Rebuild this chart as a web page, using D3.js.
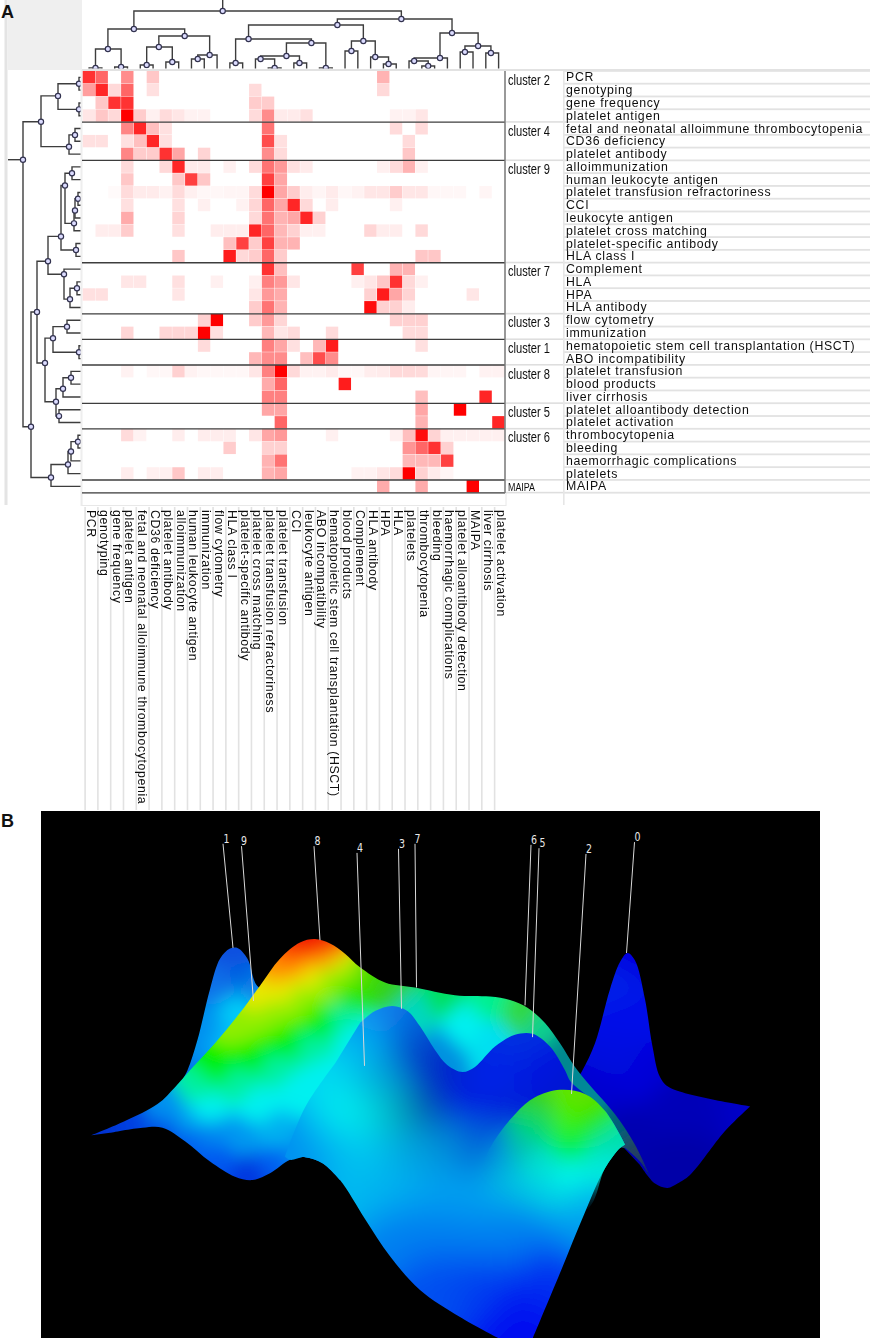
<!DOCTYPE html>
<html><head><meta charset="utf-8">
<script src="https://cdn.jsdelivr.net/npm/d3@7"></script>
<style>html,body{margin:0;padding:0;background:#fff}svg{display:block}</style></head>
<body><svg id="c" width="870" height="1339"></svg>
<script>
const rowLabels=["PCR","genotyping","gene frequency","platelet antigen","fetal and neonatal alloimmune thrombocytopenia","CD36 deficiency","platelet antibody","alloimmunization","human leukocyte antigen","platelet transfusion refractoriness","CCI","leukocyte antigen","platelet cross matching","platelet-specific antibody","HLA class I","Complement","HLA","HPA","HLA antibody","flow cytometry","immunization","hematopoietic stem cell transplantation (HSCT)","ABO incompatibility","platelet transfusion","blood products","liver cirrhosis","platelet alloantibody detection","platelet activation","thrombocytopenia","bleeding","haemorrhagic complications","platelets","MAIPA"];
const colLabels=["PCR","genotyping","gene frequency","platelet antigen","fetal and neonatal alloimmune thrombocytopenia","CD36 deficiency","platelet antibody","alloimmunization","human leukocyte antigen","immunization","flow cytometry","HLA class I","platelet-specific antibody","platelet cross matching","platelet transfusion refractoriness","platelet transfusion","CCI","leukocyte antigen","ABO incompatibility","hematopoietic stem cell transplantation (HSCT)","blood products","Complement","HLA antibody","HPA","HLA","platelets","thrombocytopenia","bleeding","haemorrhagic complications","platelet alloantibody detection","MAIPA","liver cirrhosis","platelet activation"];
const clusterNames=["cluster 2","cluster 4","cluster 9","cluster 7","cluster 3","cluster 1","cluster 8","cluster 5","cluster 6","MAIPA"];
const clusterSizes=[4,3,8,4,2,2,3,2,4,1];
// co-occurrence intensity per row as [column, percent]
const heatRows=[
[[0,80],[1,60],[3,45],[5,22],[23,30]],
[[0,38],[1,85],[2,15],[3,60],[5,12],[13,14],[23,15]],
[[1,22],[2,80],[3,80],[13,20],[14,20]],
[[0,10],[1,22],[2,15],[3,100],[4,20],[5,6],[6,14],[7,10],[8,5],[9,5],[13,14],[14,45],[15,8],[16,8],[17,12],[24,5],[25,5],[26,10]],
[[3,48],[4,85],[5,25],[6,12],[14,55],[24,14],[26,14]],
[[0,12],[1,12],[3,12],[4,25],[5,85],[6,12],[14,70],[15,12],[25,14]],
[[3,48],[4,20],[5,20],[6,80],[7,35],[9,17],[14,45],[15,14],[25,22]],
[[3,14],[6,15],[7,85],[8,8],[9,8],[11,6],[13,14],[14,55],[15,40],[16,12],[17,8],[23,6],[24,14],[25,30],[26,6]],
[[3,22],[7,22],[8,75],[9,22],[14,75],[15,35]],
[[2,2],[3,14],[4,8],[5,8],[6,5],[7,14],[8,6],[9,3],[10,3],[11,4],[12,4],[13,14],[14,100],[15,35],[16,20],[17,7],[18,4],[19,8],[20,3],[21,5],[22,10],[23,10],[24,20],[25,10],[26,10],[27,3],[28,3],[29,3],[31,4]],
[[3,12],[7,12],[9,6],[12,5],[13,16],[14,60],[15,35],[16,85],[17,15],[19,7],[24,6]],
[[3,33],[7,17],[13,15],[14,55],[15,30],[16,35],[17,85],[18,18]],
[[1,7],[2,7],[3,20],[7,12],[10,7],[11,7],[12,7],[13,85],[14,60],[15,28],[16,18],[17,6],[18,6],[22,16],[23,7],[24,7],[26,15]],
[[11,25],[12,75],[13,20],[14,75],[15,30],[16,30]],
[[7,22],[11,90],[12,15],[13,20],[14,60],[15,20],[26,22],[27,22]],
[[14,80],[15,25],[21,75],[24,30],[25,30]],
[[3,10],[4,10],[7,12],[10,6],[13,6],[14,50],[15,40],[16,10],[21,6],[22,10],[23,22],[24,80],[25,15],[26,6]],
[[0,12],[1,12],[7,10],[13,10],[14,40],[15,33],[22,18],[23,90],[24,35],[25,17],[30,10]],
[[13,20],[14,55],[15,30],[22,95],[23,18],[24,18],[25,7]],
[[9,18],[10,100],[13,20],[14,40],[15,16],[24,18],[25,18],[26,18]],
[[3,16],[6,16],[7,16],[8,16],[9,100],[10,12],[14,28],[15,10],[16,14],[19,14],[25,14],[26,14]],
[[9,14],[14,50],[15,35],[16,12],[18,28],[19,90],[26,12]],
[[13,28],[14,45],[15,45],[17,25],[18,70],[19,45]],
[[3,5],[5,3],[6,3],[7,18],[8,5],[9,3],[10,3],[11,3],[12,3],[13,10],[14,50],[15,100],[16,15],[17,5],[18,5],[19,8],[20,3],[21,3],[22,7],[23,8],[24,15],[25,15],[26,14],[27,4],[28,4],[29,4],[31,5],[32,5]],
[[14,33],[15,60],[20,90]],
[[14,50],[15,50],[26,25],[31,85]],
[[14,35],[15,35],[26,35],[29,100]],
[[15,60],[26,30],[32,85]],
[[3,14],[4,5],[7,7],[9,7],[10,7],[11,7],[13,10],[14,35],[15,40],[19,6],[24,6],[25,25],[26,95],[27,17],[28,6],[29,6],[30,6],[31,6],[32,6]],
[[11,20],[14,18],[15,18],[25,42],[26,60],[27,80],[28,18]],
[[14,30],[15,55],[25,28],[26,28],[27,28],[28,75]],
[[3,7],[5,6],[6,6],[7,22],[9,7],[10,7],[14,30],[15,35],[21,5],[22,5],[23,10],[24,14],[25,100],[26,18],[27,8],[28,4]],
[[23,33],[26,33],[30,100]]
];
const N=(at,h,a,b)=>({at,h,children:[a,b]});
// top dendrogram: node position (column units) and merge height
const topTree=N(10.94,59,
 N(4.0,41,
  N(1.97,21,N(1,2,0,1),N(3,3,2,3)),
  N(7.97,34,N(5.95,23,N(5,5,4,5),N(7,8,6,7)),N(9.92,15,N(8.99,11,8,9),10))),
 N(24.9,51,
  N(19.9,45,
   N(12.96,31,N(11.95,7,11,12),
    N(17.87,27,
     N(15.92,14,N(13.9,11,13,N(15,2,14,15)),N(16.94,7,16,17)),
     N(19,2,18,19))),
   N(21.93,29,N(21,19,20,21),N(22.86,13,22,N(23.9,6,23,24)))),
  N(28.86,37,
   N(27.92,12,N(25.9,9,25,N(27,4,26,27)),28),
   N(30.9,24,N(29.87,18,29,30),N(31.9,17,31,32)))));
// left dendrogram: node position (row units) and merge height
const leftTree=N(6.94,59,
 N(3.97,41,
  N(1.95,24,N(1,3,0,1),N(3,3,2,3)),
  N(5.92,13,N(5,7,4,5),6)),
 N(27.83,51,
  N(18.86,45,
   N(14.89,34,
    N(12.94,21,
     N(8.96,17,N(8,10,7,8),N(11.92,8,N(10.91,7,N(10,4,9,10),11),12)),
     N(14,6,13,14)),
    N(15.9,18,15,N(17.85,12,N(17,5,16,17),18))),
   N(22.84,37,
    N(20.9,29,N(20,15,19,20),N(22,3,21,22)),
    N(25.88,26,N(24.86,19,N(24,11,23,24),25),N(27,23,26,27)))),
  N(31.8,31,N(30.79,14,N(29.77,11,N(29,4,28,29),30),31),32)));
// surface picture: silhouettes and sampled colours, in picture units
const peakZeroOutline=[[1060,830],[1085,770],[1110,690],[1140,530],[1160,450],[1175,423],[1190,445],[1210,560],[1225,700],[1240,790],[1260,822],[1420,877],[1420,877],[1370,950],[1300,1080],[1275,1105],[1255,1118],[1230,1105],[1200,1050]];
const peakZeroStops=[[1175,440,"#0000e0"],[1150,520,"#0020e8"],[1170,600,"#0010e8"],[1150,750,"#0008e0"],[1200,800,"#0000d8"],[1130,820,"#0000d0"],[1250,880,"#0000b8"],[1330,900,"#0000b8"],[1250,1050,"#0000a8"],[1180,950,"#0000b0"],[1400,880,"#0000c8"],[1300,1030,"#0000a8"]];
const peakOneOutline=[[280,810],[295,770],[315,680],[340,530],[360,440],[380,410],[395,408],[415,440],[430,510],[445,545],[400,650],[330,780]];
const peakOneStops=[[385,420,"#0a50e0"],[365,520,"#0870e8"],[340,650,"#0090f0"],[400,500,"#0060e0"],[425,530,"#1080e8"],[320,750,"#0090f0"],[300,790,"#0060e0"],[395,590,"#00d0f8"],[370,680,"#00c0f8"]];
const bodyOutline=[[103,962],[103,962],[170,920],[235,870],[270,820],[300,770],[350,690],[400,600],[440,520],[480,440],[520,392],[550,382],[580,395],[610,425],[640,465],[690,510],[750,525],[830,548],[900,552],[940,562],[975,585],[1010,630],[1040,690],[1070,760],[1100,815],[1150,900],[1190,990],[1225,1100],[1225,1100],[1200,1040],[1170,1000],[1170,1000],[1000,1000],[600,1095],[600,1095],[565,1045],[530,1027],[500,1035],[460,1075],[425,1095],[390,1085],[340,1040],[290,980],[245,940],[205,940],[140,955]];
const bodyStops=[[550,386,"#f01000"],[525,403,"#f01800"],[577,400,"#f02000"],
 [510,432,"#ff4800"],[550,418,"#ff4000"],[587,412,"#ff5000"],
 [485,478,"#ff9000"],[525,460,"#ff9800"],[572,436,"#ff9800"],
 [445,555,"#e8e800"],[492,530,"#e8e800"],[542,490,"#e8e800"],[602,452,"#dce800"],
 [400,640,"#90ee00"],[460,600,"#90ee00"],[520,560,"#90ee00"],[580,510,"#90ee00"],[622,480,"#80e800"],
 [350,765,"#00f000"],[420,730,"#00f000"],[490,690,"#00f000"],[560,630,"#00f000"],[625,550,"#20e800"],
 [320,825,"#00f0a0"],[400,815,"#00f0a0"],[480,770,"#00f0a0"],[550,710,"#00f0a0"],[610,625,"#00f0a0"],
 [330,885,"#00f0f0"],[430,875,"#00f0f0"],[510,825,"#00f0f0"],[570,775,"#00f0f0"],[630,670,"#00f0f0"],
 [250,890,"#0090f0"],[180,925,"#0040e0"],[120,955,"#0030d0"],[300,925,"#00a0f0"],[340,965,"#0088f0"],[400,960,"#0098f0"],[470,960,"#00b0f0"],[245,945,"#0050e8"],[300,975,"#0060f0"],[350,1030,"#0058f0"],[420,1085,"#0038e0"],[470,1040,"#0060f0"],[525,1020,"#0090f0"],
 [700,520,"#30d020"],[670,490,"#40d800"],[800,555,"#00e060"],[900,570,"#00f090"],[960,600,"#30d840"],[1000,650,"#10d090"],[850,640,"#00f0f0"],[750,600,"#00d8c0"],[900,680,"#00e0f0"],[800,720,"#0090e0"],[1040,720,"#008890"],[1100,860,"#008898"],[1150,930,"#006078"],[1190,1030,"#204060"],[1210,1080,"#001880"]];
const frontOutline=[[640,630],[670,595],[705,580],[735,595],[760,640],[790,710],[815,755],[845,775],[870,760],[910,700],[950,665],[985,662],[1020,700],[1050,770],[1062,805],[1130,890],[1170,990],[1170,990],[1160,1000],[1130,1060],[1090,1190],[1040,1370],[985,1565],[985,1565],[920,1565],[920,1565],[840,1500],[760,1420],[700,1320],[650,1210],[600,1095],[565,1045],[530,1027],[500,1035],[490,1025],[490,1025],[530,880],[590,750]];
const frontStops=[[705,595,"#1078e8"],[680,620,"#1090f0"],[740,640,"#0060d8"],[745,720,"#0040c8"],[800,770,"#0028c8"],[650,700,"#00b0f0"],[600,800,"#00d8f0"],[610,900,"#00f0f0"],[680,800,"#00a8d8"],[660,900,"#00d8e0"],[720,900,"#00a8b8"],[770,880,"#0050b0"],[850,850,"#0018e0"],[960,680,"#0030e0"],[900,780,"#0020e8"],[1000,780,"#0010e0"],[960,880,"#0020d8"],[1045,840,"#0018d0"],[880,1000,"#0060d8"],[650,1000,"#00c8f0"],[560,980,"#00b0f0"],[520,1010,"#0090f0"],[730,1000,"#00a8e0"],[800,1000,"#0090d8"],[950,1080,"#00c8e0"],[800,1120,"#00a0f0"],[640,1120,"#00b8f0"],[700,1120,"#00b0f0"],[880,1150,"#00a0f0"],[1050,1100,"#00f0e0"],[720,1250,"#0080f0"],[800,1250,"#0080f0"],[880,1250,"#0080f0"],[960,1250,"#0080f0"],[800,1380,"#0050f0"],[880,1400,"#0040f0"],[950,1500,"#0010f0"],[1010,1360,"#0030f0"],[1070,1200,"#00a0f0"]];
const bumpOutline=[[870,1120],[900,1000],[950,900],[990,850],[1040,828],[1090,840],[1130,890],[1170,990],[1170,990],[1160,1000],[1130,1060],[1095,1180],[1000,1200]];
const bumpStops=[[1045,835,"#60e800"],[1000,860,"#30d020"],[1085,860,"#60e000"],[1055,910,"#40f000"],[990,930,"#00d870"],[1110,920,"#20e800"],[1060,990,"#00f040"],[1140,980,"#00e0b0"],[960,1000,"#00c8a8"],[1000,1050,"#00e0d0"],[1060,1090,"#00f0e8"],[1120,1060,"#00e8d8"],[900,1060,"#00a0d8"],[1000,1170,"#00b8f0"],[1090,1170,"#00a8f0"]];
const bumpGlow=[1075,880,170,240];
const peakLabels=["1","9","8","4","3","7","6","5","2","0"];
const peakLabelPoints=[[373,83],[408,90],[555,88],[640,110],[724,97],[755,83],[988,86],[1005,95],[1098,113],[1195,78]];
const peakLineTops=[[366,100],[403,107],[548,107],[634,127],[717,115],[750,100],[982,103],[998,113],[1092,130],[1189,95]];
const peakLineEnds=[[386,408],[427,565],[560,385],[649,757],[723,588],[753,525],[970,578],[985,672],[1063,840],[1173,423]];

const svg=d3.select("#c");
const defs=svg.append("defs");
const n=rowLabels.length;
const xS=d3.scaleLinear([0,33],[82.7,505]);
const yS=d3.scaleLinear([0,33],[71,492.8]);
const topH=d3.scaleLinear([0,70],[70,0]);
const leftH=d3.scaleLinear([0,82],[82,0]);
const heat=d3.scaleLinear([0,100],["#ffffff","#ff0000"]);
const dark="#3e3e3e";

const f1=defs.append("filter").attr("id","soft").attr("filterUnits","userSpaceOnUse").attr("x",0).attr("y",0).attr("width",870).attr("height",830);
f1.append("feGaussianBlur").attr("stdDeviation",0.35);
const A=svg.append("g").attr("filter","url(#soft)");
A.append("rect").attr("x",8).attr("y",0).attr("width",74).attr("height",70).attr("fill","#efefef");
A.append("rect").attr("x",4.5).attr("y",0).attr("width",3).attr("height",505).attr("fill","#e4e4e4");
A.append("rect").attr("x",82).attr("y",69).attr("width",788).attr("height",2).attr("fill","#e2e2e2");
A.append("rect").attr("x",80.5).attr("y",70).attr("width",2).attr("height",436).attr("fill","#eeeeee");
A.append("rect").attr("x",82).attr("y",493).attr("width",424).attr("height",12.5).attr("fill","#fff").attr("stroke","#e8e8e8");

heatRows.forEach((cells,r)=>{
  A.append("g").selectAll("rect").data(cells).join("rect")
   .attr("x",d=>xS(d[0])).attr("y",yS(r)).attr("width",xS(1)-xS(0)-0.4).attr("height",yS(1)-yS(0)-0.4)
   .attr("fill",d=>heat(d[1]));
});
A.append("g").selectAll("rect").data(d3.range(n+1)).join("rect")
  .attr("x",563).attr("y",i=>yS(i)-1).attr("width",307).attr("height",1.8).attr("fill","#e2e2e2");
A.append("rect").attr("x",563).attr("y",71).attr("width",1.6).attr("height",434).attr("fill","#e6e6e6");
let start=0;
const starts=clusterSizes.map(s=>{const v=start;start+=s;return v;});
A.append("g").selectAll("line").data(starts.slice(1).concat([33])).join("line")
  .attr("x1",82).attr("x2",505).attr("y1",d=>yS(d)).attr("y2",d=>yS(d)).attr("stroke",dark).attr("stroke-width",1.3);
A.append("g").selectAll("rect").data(starts.slice(1).concat([33])).join("rect")
  .attr("x",506).attr("y",d=>yS(d)-1).attr("width",57).attr("height",1.6).attr("fill","#dedede");
A.append("line").attr("x1",505).attr("x2",505).attr("y1",71).attr("y2",493).attr("stroke","#777").attr("stroke-width",1.5);
const sans="'DejaVu Sans',Verdana,sans-serif";
const plain="'Liberation Sans',Arial,sans-serif";
A.append("g").selectAll("text").data(rowLabels).join("text")
  .attr("x",566).attr("y",(d,i)=>yS(i+1)-2.4).text(d=>d)
  .attr("font-family",plain).attr("font-size",12.3).attr("letter-spacing",0.69).attr("fill","#111");
A.append("g").selectAll("text").data(clusterNames).join("text")
  .attr("x",508).attr("y",(d,i)=>yS(starts[i])+(d==="MAIPA"?10.5:13.6)).text(d=>d)
  .attr("textLength",d=>d==="MAIPA"?27:42).attr("lengthAdjust","spacingAndGlyphs")
  .attr("font-family",plain).attr("font-size",d=>d==="MAIPA"?10.5:14.5).attr("fill","#111");
A.append("g").selectAll("rect").data(colLabels).join("rect")
  .attr("x",(d,i)=>xS(i)+1.6).attr("y",507).attr("width",1.6).attr("height",303).attr("fill","#e2e2e2");
A.append("g").selectAll("text").data(colLabels).join("text")
  .attr("transform",(d,i)=>`translate(${xS(i)+4.4},510) rotate(90)`).text(d=>d)
  .attr("font-family",plain).attr("font-size",12.3).attr("letter-spacing",0.63).attr("fill","#111");

defs.append("clipPath").attr("id","clipTop").append("rect").attr("x",82).attr("y",0).attr("width",430).attr("height",68.5);
defs.append("clipPath").attr("id","clipLeft").append("rect").attr("x",0).attr("y",60).attr("width",80.5).attr("height",450);
const kids=d=>d.children?d.children.map(c=>typeof c==="number"?{at:c+.5,h:-8}:c):null;
function drawTree(tree,clip,px){
  const g=A.append("g").attr("clip-path",`url(#${clip})`);
  const root=d3.hierarchy(tree,kids);
  g.append("g").selectAll("path").data(root.links()).join("path")
    .attr("d",l=>{
      const [x0,y0]=px(l.source.data),[x1,y1]=px(l.target.data);
      return clip==="clipTop"?`M${x0},${y0}H${x1}V${y1}`:`M${x0},${y0}V${y1}H${x1}`;
    }).attr("fill","none").attr("stroke",dark).attr("stroke-width",1.4);
  g.append("g").selectAll("circle").data(root.descendants().filter(d=>d.children)).join("circle")
    .attr("cx",d=>px(d.data)[0]).attr("cy",d=>px(d.data)[1]).attr("r",2.6)
    .attr("fill","#dcdcff").attr("stroke","#33334f").attr("stroke-width",1.2);
}
A.append("line").attr("x1",xS(topTree.at)).attr("x2",xS(topTree.at)).attr("y1",0).attr("y2",topH(topTree.h)).attr("stroke",dark).attr("stroke-width",1.4);
A.append("line").attr("y1",yS(leftTree.at)).attr("y2",yS(leftTree.at)).attr("x1",8).attr("x2",leftH(leftTree.h)).attr("stroke",dark).attr("stroke-width",1.4);
drawTree(topTree,"clipTop",d=>[xS(d.at),topH(d.h)]);
drawTree(leftTree,"clipLeft",d=>[leftH(d.h),yS(d.at)]);

svg.selectAll("text.pl").data([["A",1,18],["B",1,827]]).join("text").attr("class","pl")
  .attr("x",d=>d[1]).attr("y",d=>d[2]).text(d=>d[0]).attr("font-family",plain).attr("font-weight","bold").attr("font-size",18).attr("fill","#111");

const sx=d3.scaleLinear([0,1560],[40,820]);
const sy=d3.scaleLinear([0,1568],[810,1340]);
svg.append("rect").attr("x",41).attr("y",811).attr("width",779).attr("height",527).attr("fill","#000");
defs.append("clipPath").attr("id","panelB").append("rect").attr("x",41).attr("y",811).attr("width",779).attr("height",527);
const P=svg.append("g").attr("clip-path","url(#panelB)");
const outlineGen=d3.line().x(d=>sx(d[0])).y(d=>sy(d[1])).curve(d3.curveCatmullRom.alpha(0.5));
function layer(id,outline,stops,blur,maskId){
  const f=defs.append("filter").attr("id","b"+id).attr("filterUnits","userSpaceOnUse").attr("x",0).attr("y",780).attr("width",870).attr("height",600);
  f.append("feGaussianBlur").attr("stdDeviation",blur);
  defs.append("clipPath").attr("id","c"+id).append("path").attr("d",outlineGen(outline)+"Z");
  const pts=stops.map(s=>[sx(s[0]),sy(s[1])]);
  const vor=d3.Delaunay.from(pts).voronoi([-60,700,930,1440]);
  let g=P.append("g").attr("clip-path",`url(#c${id})`);
  if(maskId) g=g.append("g").attr("mask",`url(#${maskId})`);
  g=g.append("g").attr("filter",`url(#b${id})`);
  g.selectAll("path").data(stops).join("path").attr("d",(d,i)=>vor.renderCell(i)).attr("fill",d=>d[2]).attr("stroke",d=>d[2]).attr("stroke-width",1);
}
const fg=defs.append("filter").attr("id","glowBlur").attr("filterUnits","userSpaceOnUse").attr("x",0).attr("y",780).attr("width",870).attr("height",600);
fg.append("feGaussianBlur").attr("stdDeviation",16);
defs.append("mask").attr("id","bumpMask").attr("maskUnits","userSpaceOnUse").attr("x",0).attr("y",780).attr("width",870).attr("height",600)
  .append("ellipse").attr("cx",sx(bumpGlow[0])).attr("cy",sy(bumpGlow[1])).attr("rx",sx(bumpGlow[2])-sx(0)).attr("ry",sy(bumpGlow[3])-sy(0))
  .attr("fill","#fff").attr("filter","url(#glowBlur)");
layer("p0",peakZeroOutline,peakZeroStops,12);
layer("p1",peakOneOutline,peakOneStops,10);
layer("body",bodyOutline,bodyStops,9);
layer("front",frontOutline,frontStops,17);
layer("bump",bumpOutline,bumpStops,11,"bumpMask");
P.append("g").selectAll("line").data(peakLineTops).join("line")
  .attr("x1",d=>sx(d[0])).attr("y1",d=>sy(d[1]))
  .attr("x2",(d,i)=>sx(peakLineEnds[i][0])).attr("y2",(d,i)=>sy(peakLineEnds[i][1]))
  .attr("stroke","#d8d8d8").attr("stroke-width",1);
P.append("g").selectAll("text").data(peakLabels).join("text")
  .attr("x",(d,i)=>sx(peakLabelPoints[i][0])-3).attr("y",(d,i)=>sy(peakLabelPoints[i][1])+5)
  .attr("textLength",6).attr("lengthAdjust","spacingAndGlyphs").text(d=>d)
  .attr("font-family",sans).attr("font-size",12).attr("fill","#e8e8e8");
</script></body></html>
